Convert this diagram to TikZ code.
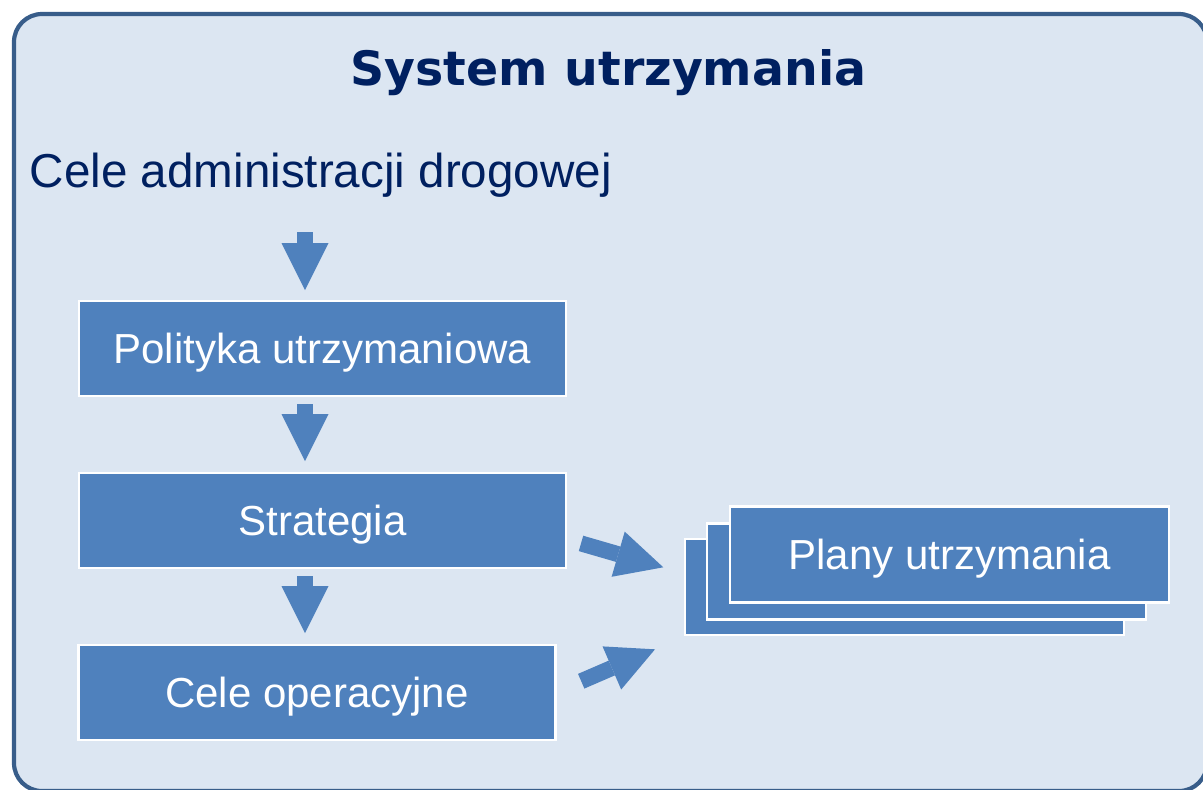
\documentclass[tikz,border=0pt]{standalone}
\usepackage{fontspec}
\setmainfont{Liberation Sans}
\newfontfamily\titlefont{DejaVu Sans}
\usepackage{tikz}
\usetikzlibrary{arrows.meta}
\usepackage{xcolor}
\definecolor{frameblue}{HTML}{385D8A}
\definecolor{framefill}{HTML}{DCE6F2}
\definecolor{boxblue}{HTML}{4F81BD}
\definecolor{navy}{HTML}{002060}

\begin{document}
\begin{tikzpicture}[x=0.5pt, y=-0.5pt, thick,
  main/.style = {draw=white, line width=1.25pt, fill=boxblue, text=white, font=\fontsize{21pt}{25pt}\selectfont, minimum width=243.5pt, minimum height=47.5pt, text height=15pt, text depth=0pt, inner sep=0pt},
  plan/.style = {main, minimum width=219.5pt, minimum height=48pt},
  arr/.style = {draw=boxblue, line width=8pt, -{Triangle[width=23.5pt, length=23.5pt, line width=0pt]}}]
  \clip (0,0) rectangle (1203,789);
  \fill[white] (0,0) rectangle (1203,789);
  \draw[frameblue, fill=framefill, line width=2.1pt, rounded corners=14pt] (14,14) rectangle (1207,791);
  \node[anchor=base, text=navy, font=\titlefont\bfseries\fontsize{23.7pt}{28pt}\selectfont] (1) at (608.5,85) {System utrzymania};
  \node[anchor=base west, inner sep=0pt, text=navy, font=\fontsize{23.8pt}{28pt}\selectfont] (2) at (29,187) {Cele administracji drogowej};
  \node[main] (3) at (322.5,348.5) {Polityka utrzymaniowa};
  \node[main] (4) at (322.5,520.5) {Strategia};
  \node[main, minimum width=238.5pt] (5) at (317,692.5) {Cele operacyjne};
  \node[plan] (6) at (904.5,587) {};
  \node[plan] (7) at (926.5,571.5) {};
  \node[plan] (8) at (949.5,554.5) {Plany utrzymania};
  \coordinate (11) at (305,232);
  \coordinate (12) at (305,290);
  \coordinate (13) at (305,404);
  \coordinate (14) at (305,461);
  \coordinate (15) at (305,576);
  \coordinate (16) at (305,633);
  \coordinate (17) at (581,543.4);
  \coordinate (18) at (663.3,567.3);
  \coordinate (19) at (581.2,681.2);
  \coordinate (20) at (655,649.3);
  \draw[arr] (11) -- (12);
  \draw[arr] (13) -- (14);
  \draw[arr] (15) -- (16);
  \draw[arr] (17) -- (18);
  \draw[arr] (19) -- (20);
\end{tikzpicture}
\end{document}
